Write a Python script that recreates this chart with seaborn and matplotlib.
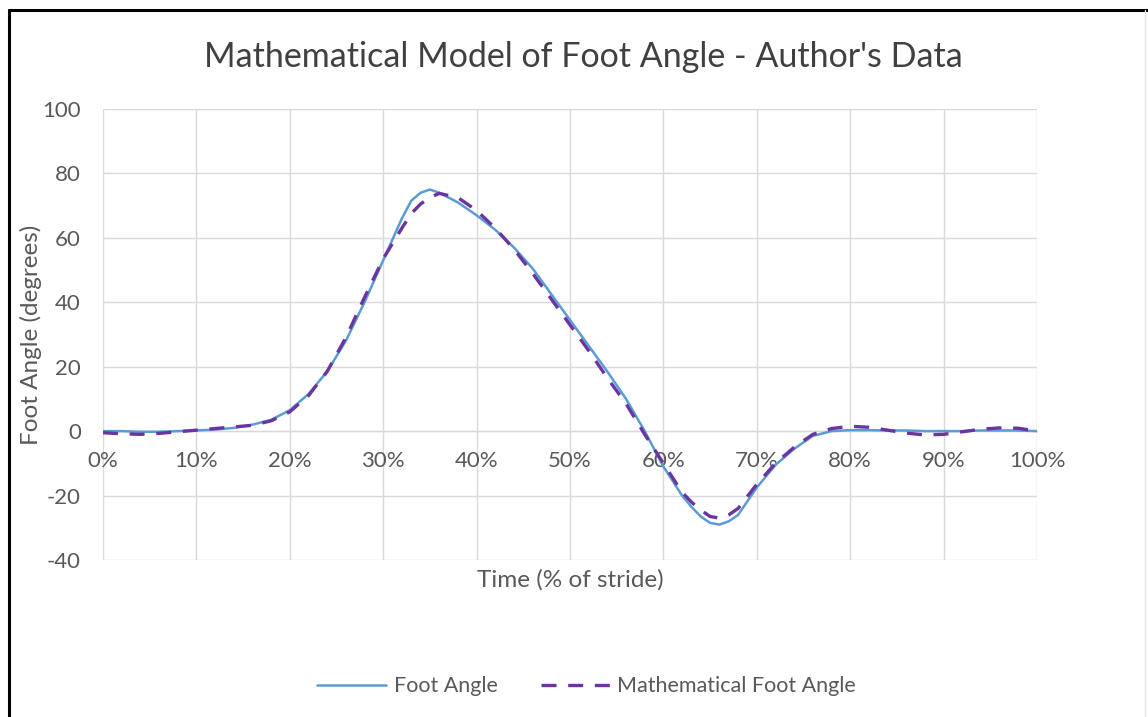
import matplotlib
matplotlib.use("Agg")
import matplotlib.pyplot as plt
from matplotlib.lines import Line2D
import matplotlib.ticker as mticker
import pandas as pd
import seaborn as sns

# Stride time (% of stride)
time_pct = [0, 2, 4, 6, 8, 10, 12, 14, 16, 18, 20, 22, 24, 26, 28, 30, 32, 33, 34, 35,
            36, 38, 40, 42, 44, 46, 48, 50, 52, 54, 56, 58, 60, 62, 63, 64, 65, 66, 67,
            68, 70, 72, 74, 76, 78, 80, 82, 84, 86, 88, 90, 92, 94, 96, 98, 100]

# Measured foot angle (degrees)
foot_angle = [0, 0, -0.2, -0.2, 0, 0.2, 0.5, 1.0, 2.0, 3.5, 6.5, 11.5, 18.5, 28, 40, 53,
              66, 71.5, 74, 75, 74, 71, 67, 62.5, 57, 50.5, 42.5, 34.5, 26.5, 18.5, 10, 0,
              -11, -20, -23.5, -26.5, -28.5, -29, -28, -26, -17.5, -10.5, -5.5, -1.5, 0,
              0.3, 0.3, 0.2, 0.2, 0, 0, 0, 0.2, 0.2, 0.2, 0]

# Model prediction (degrees)
math_angle = [-0.5, -0.8, -1.0, -0.7, -0.2, 0.3, 0.8, 1.3, 1.8, 3.2, 6, 11, 18.5, 29,
              41.5, 53.5, 63, 67.5, 70.5, 72.5, 73.8, 72.5, 68.5, 63, 56.5, 49, 41, 33,
              25, 16.5, 8.5, -1, -10, -19, -22, -24.5, -26.5, -27, -26, -24, -16.5, -10,
              -5, -1, 0.8, 1.5, 1.2, 0.3, -0.6, -1.2, -1, -0.2, 0.6, 1.0, 0.9, 0]

x_ticks = [0, 10, 20, 30, 40, 50, 60, 70, 80, 90, 100]
y_ticks = [-40, -20, 0, 20, 40, 60, 80, 100]

title = "Mathematical Model of Foot Angle - Author's Data"
x_label = "Time (% of stride)"
y_label = "Foot Angle (degrees)"
series_names = ["Foot Angle", "Mathematical Foot Angle"]

sns.set_theme(style="white")
plt.rcParams["font.family"] = ["Lato", "DejaVu Sans"]
plt.rcParams["axes.unicode_minus"] = False

df = pd.DataFrame({"time": time_pct, "foot": foot_angle, "model": math_angle})

fig = plt.figure(figsize=(11.48, 7.17), dpi=100)
fig.patch.set_facecolor("white")
ax = fig.add_axes([0.0897, 0.219, 0.8136, 0.629])

grid_c = "#d9d9d9"
text_c = "#595959"

sns.lineplot(data=df, x="time", y="foot", ax=ax, color="#5B9BD5", lw=1.8,
             label=series_names[0], zorder=3)
sns.lineplot(data=df, x="time", y="model", ax=ax, color="#6A35A0", lw=2.4,
             label=series_names[1], zorder=4)
ax.lines[1].set_dashes([4.5, 3.5])
ax.lines[1].set_dash_capstyle("butt")

ax.set_xlim(0, 100)
ax.set_ylim(-40, 100)
ax.set_xticks(x_ticks)
ax.set_yticks(y_ticks)
ax.xaxis.set_major_formatter(mticker.FuncFormatter(lambda v, p: f"{int(v)}%"))
ax.grid(True, color=grid_c, lw=1.0)
ax.set_axisbelow(True)

for side in ["top", "right", "left"]:
    ax.spines[side].set_visible(False)
ax.spines["bottom"].set_position(("data", 0))
ax.spines["bottom"].set_color(grid_c)
ax.spines["bottom"].set_linewidth(1.0)

ax.tick_params(axis="both", length=0, labelsize=16, colors=text_c)
ax.tick_params(axis="x", pad=14)
ax.tick_params(axis="y", pad=16)

ax.set_xlabel("")
ax.set_ylabel("")
fig.text(0.4965, 0.191, x_label, ha="center", va="center", fontsize=17.5, color=text_c)
fig.text(0.027, 0.533, y_label, ha="center", va="center", rotation=90,
         fontsize=17.5, color=text_c)
fig.text(0.508, 0.921, title, ha="center", va="center", fontsize=24.5, color="#404040")

handles, labels = ax.get_legend_handles_labels()
ax.legend_.remove()
leg = fig.legend(handles, labels, loc="center", bbox_to_anchor=(0.511, 0.043),
                 ncol=2, frameon=False, fontsize=15.5, handlelength=3.2,
                 columnspacing=2.0, handletextpad=0.35)
for t in leg.get_texts():
    t.set_color(text_c)

# Frame edges of the chart image
fig.add_artist(Line2D([0.008, 0.008], [0.0, 0.986], color="black", lw=2.2,
                      transform=fig.transFigure))
fig.add_artist(Line2D([0.008, 1.0], [0.986, 0.986], color="black", lw=2.2,
                      transform=fig.transFigure))
fig.add_artist(Line2D([0.997, 0.997], [0.0, 0.986], color="#e6e6e6", lw=1.0,
                      transform=fig.transFigure))

fig.savefig("out.png", dpi=100, facecolor="white")
